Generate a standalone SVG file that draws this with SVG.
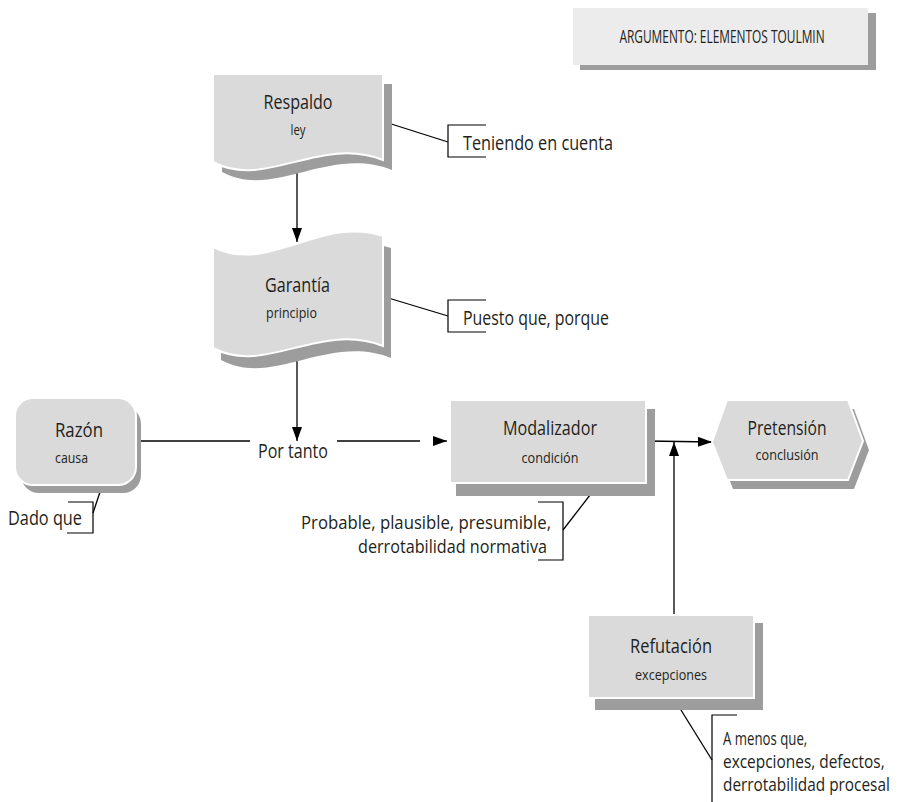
<svg xmlns="http://www.w3.org/2000/svg" width="899" height="802" viewBox="0 0 899 802">
  <style>
    .t { font-family: "Open Sans", "Liberation Sans", sans-serif; fill: #231f20; }
    .big { font-size: 20px; }
    .note { font-size: 18px; }
    .small { font-size: 15px; }
    .mid { text-anchor: middle; }
    .end { text-anchor: end; }
    .face { fill: #dadada; stroke: #ffffff; stroke-width: 2; }
    .shade { fill: #9d9d9d; }
    .title { fill: #ececec; }
    .ln { stroke: #000; stroke-width: 1.3; fill: none; }
    .br { stroke: #000; stroke-width: 1.2; fill: none; }
  </style>
  <defs>
    <marker id="arrow" markerUnits="userSpaceOnUse" markerWidth="14" markerHeight="10" refX="14" refY="5" orient="auto">
      <path d="M0,0 L14,5 L0,10 Z" fill="#000"/>
    </marker>
    <!-- wavy-bottom sheet -->
    <path id="sheet" d="M213,74 H383 V160 C320,135 265,190 213,162 Z"/>
    <!-- sheet with wavy top and bottom -->
    <path id="flag" d="M213,247 C270,275 320,215 383,236 V346 C320,321 265,376 213,348 Z"/>
    <polygon id="hex" points="712,442 727,400 848,400 863,441 848,480 727,480"/>
  </defs>

  <!-- title -->
  <g id="title">
    <rect class="shade" x="580" y="13" width="296" height="57"/>
    <rect class="title" x="573" y="8" width="295" height="57"/>
    <g transform="translate(722,43) scale(0.72,1)">
      <text class="t mid" x="0" y="0" font-size="18" textLength="285" lengthAdjust="spacingAndGlyphs">ARGUMENTO: ELEMENTOS TOULMIN</text>
    </g>
  </g>

  <!-- connectors -->
  <g id="connectors">
    <path class="ln" d="M297,165 L297,242" marker-end="url(#arrow)"/>
    <path class="ln" d="M297,352 L297,441" marker-end="url(#arrow)"/>
    <path class="ln" d="M137,441 L250,441"/>
    <path class="ln" d="M337,441 L420,441"/>
    <path class="ln" d="M440,441 L447,441" marker-end="url(#arrow)"/>
    <path class="ln" d="M647,441 L712,442" marker-end="url(#arrow)"/>
    <path class="ln" d="M674,615 L674,442" marker-end="url(#arrow)"/>

    <path class="ln" d="M385,122 L448,142"/>
    <path class="br" d="M486,125 H448 V157 H486"/>
    <path class="ln" d="M385,297 L448,316"/>
    <path class="br" d="M486,300 H448 V332 H486"/>
    <path class="ln" d="M102,486 L93,513"/>
    <path class="br" d="M68,502 H93 V533 H67"/>
    <path class="ln" d="M597,486 L563,530"/>
    <path class="br" d="M538,502 H563 V560 H538"/>
    <path class="ln" d="M676,702 L712,760"/>
    <path class="br" d="M737,715 H712 V802"/>
  </g>

  <!-- Respaldo -->
  <g id="respaldo">
    <use href="#sheet" class="shade" transform="translate(9,10)"/>
    <use href="#sheet" class="face"/>
    <text class="t big mid" x="298" y="109" textLength="69" lengthAdjust="spacingAndGlyphs">Respaldo</text>
    <text class="t small mid" x="298" y="135" textLength="15" lengthAdjust="spacingAndGlyphs">ley</text>
  </g>
  <text class="t big" x="463" y="150" textLength="150" lengthAdjust="spacingAndGlyphs">Teniendo en cuenta</text>

  <!-- Garantía -->
  <g id="garantia">
    <use href="#flag" class="shade" transform="translate(8,12)"/>
    <use href="#flag" class="face"/>
    <text class="t big" x="265" y="292" textLength="65" lengthAdjust="spacingAndGlyphs">Garantía</text>
    <text class="t small" x="266" y="318" textLength="51" lengthAdjust="spacingAndGlyphs">principio</text>
  </g>
  <text class="t big" x="463" y="325" textLength="146" lengthAdjust="spacingAndGlyphs">Puesto que, porque</text>

  <!-- Razón -->
  <g id="razon">
    <rect class="shade" x="21" y="406" width="120" height="87" rx="18"/>
    <rect class="face" x="15" y="398" width="121" height="87" rx="18"/>
    <text class="t big" x="55" y="437" textLength="48" lengthAdjust="spacingAndGlyphs">Razón</text>
    <text class="t small" x="55" y="463" textLength="33" lengthAdjust="spacingAndGlyphs">causa</text>
  </g>
  <text class="t big" x="8" y="525" textLength="74" lengthAdjust="spacingAndGlyphs">Dado que</text>

  <text class="t big" x="258" y="458" textLength="70" lengthAdjust="spacingAndGlyphs">Por tanto</text>

  <!-- Modalizador -->
  <g id="modalizador">
    <rect class="shade" x="456" y="409" width="199" height="87"/>
    <rect class="face" x="450" y="400" width="196" height="83"/>
    <text class="t big mid" x="550" y="435" textLength="94" lengthAdjust="spacingAndGlyphs">Modalizador</text>
    <text class="t small mid" x="550" y="463" textLength="57" lengthAdjust="spacingAndGlyphs">condición</text>
  </g>
  <text class="t note end" x="551" y="529" textLength="250" lengthAdjust="spacingAndGlyphs">Probable, plausible, presumible,</text>
  <text class="t note end" x="547" y="553" textLength="189" lengthAdjust="spacingAndGlyphs">derrotabilidad normativa</text>

  <!-- Pretensión -->
  <g id="pretension">
    <use href="#hex" class="shade" transform="translate(6,9)"/>
    <use href="#hex" class="face"/>
    <text class="t big mid" x="787" y="435" textLength="79" lengthAdjust="spacingAndGlyphs">Pretensión</text>
    <text class="t small mid" x="787" y="460" textLength="63" lengthAdjust="spacingAndGlyphs">conclusión</text>
  </g>

  <!-- Refutación -->
  <g id="refutacion">
    <rect class="shade" x="595" y="623" width="168" height="87"/>
    <rect class="face" x="588" y="615" width="166" height="83"/>
    <text class="t big mid" x="671" y="653" textLength="82" lengthAdjust="spacingAndGlyphs">Refutación</text>
    <text class="t small mid" x="671" y="680" textLength="72" lengthAdjust="spacingAndGlyphs">excepciones</text>
  </g>
  <!-- three-line note, squeezed horizontally so it stays inside the page -->
  <g transform="translate(723,0) scale(0.86,1)">
    <text class="t note" x="0" y="745" textLength="98" lengthAdjust="spacingAndGlyphs">A menos que,</text>
    <text class="t note" x="0" y="768" textLength="188" lengthAdjust="spacingAndGlyphs">excepciones, defectos,</text>
    <text class="t note" x="0" y="791" textLength="194" lengthAdjust="spacingAndGlyphs">derrotabilidad procesal</text>
  </g>
</svg>
